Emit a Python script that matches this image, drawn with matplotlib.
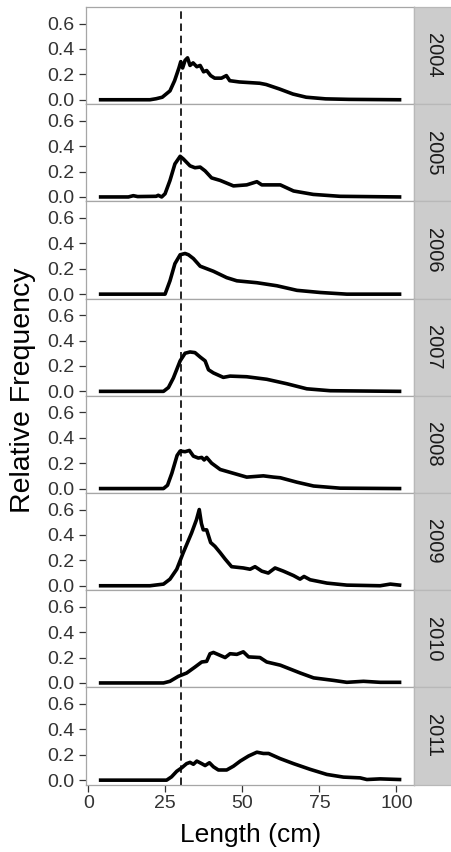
import numpy as np
import matplotlib
matplotlib.use("Agg")
import matplotlib.pyplot as plt

plt.rcParams['font.family'] = ['Liberation Sans', 'DejaVu Sans']

# length (cm) / relative frequency for each year
years = ["2004", "2005", "2006", "2007", "2008", "2009", "2010", "2011"]

len_2004 = [4, 20, 22, 24, 26.5, 28, 29.4, 30, 30.6, 31.4, 32.2, 33, 34, 35.2, 36.3, 37.4, 38.4,
            39.7, 41, 43.2, 44.8, 45.9, 49, 55.6, 57.7, 62, 66.4, 70.7, 77, 84.6, 101]
freq_2004 = [0, 0, 0.008, 0.02, 0.07, 0.15, 0.25, 0.30, 0.25, 0.31, 0.33, 0.27, 0.29, 0.26, 0.27,
             0.22, 0.23, 0.19, 0.17, 0.17, 0.19, 0.15, 0.14, 0.13, 0.12, 0.085, 0.045, 0.02,
             0.007, 0.003, 0]

len_2005 = [4, 13, 14.6, 16, 22, 22.7, 23.8, 24.9, 26.5, 28.1, 29.8, 30.8, 33, 34.6, 36.3, 37.9,
            40, 42.8, 47.1, 51.4, 54.7, 56.3, 62.3, 66.6, 73, 81.7, 101]
freq_2005 = [0, 0, 0.01, 0.003, 0.005, 0.013, 0, 0.025, 0.13, 0.26, 0.32, 0.30, 0.245, 0.23,
             0.235, 0.205, 0.15, 0.13, 0.087, 0.095, 0.12, 0.095, 0.095, 0.047, 0.02, 0.005, 0]

len_2006 = [4, 24.9, 26.5, 28.1, 29.8, 31.4, 32.5, 34.1, 36.3, 40.6, 44.9, 48.2, 54.7, 61.2,
            67.7, 75.3, 83.9, 101]
freq_2006 = [0, 0, 0.105, 0.24, 0.31, 0.32, 0.31, 0.28, 0.22, 0.18, 0.13, 0.105, 0.09, 0.066,
             0.03, 0.013, 0, 0]

len_2007 = [4, 24.4, 26, 27.6, 29.8, 31.4, 33, 34.6, 36.3, 37.9, 39, 40.6, 43.8, 46, 51.4, 57.9,
            64.4, 70.9, 78.5, 101]
freq_2007 = [0, 0, 0.03, 0.105, 0.24, 0.30, 0.31, 0.305, 0.27, 0.24, 0.17, 0.145, 0.11, 0.12,
             0.115, 0.095, 0.06, 0.02, 0.005, 0]

len_2008 = [4, 24.4, 25.7, 27.1, 28.8, 29.8, 31.4, 32.8, 34.1, 35.7, 36.8, 37.6, 38.4, 40, 42.8,
            47.1, 51.4, 56.8, 60.1, 62.3, 67.7, 73.1, 81.7, 101]
freq_2008 = [0, 0, 0.026, 0.12, 0.26, 0.295, 0.29, 0.30, 0.255, 0.24, 0.245, 0.225, 0.245, 0.2,
             0.15, 0.12, 0.09, 0.1, 0.09, 0.085, 0.05, 0.02, 0.003, 0]

len_2009 = [4, 20, 24.4, 26.5, 28.7, 30.8, 33.5, 35.1, 36, 36.7, 37.3, 38.4, 39.7, 41.1, 42.8,
            44.4, 46.5, 50.3, 52.5, 54.1, 56.3, 58.4, 60.6, 63.3, 66.6, 68.7, 70, 72, 77.4, 83.9,
            94.7, 98, 101]
freq_2009 = [0, 0, 0.013, 0.052, 0.13, 0.26, 0.415, 0.52, 0.6, 0.49, 0.44, 0.44, 0.34, 0.31,
             0.26, 0.21, 0.15, 0.14, 0.13, 0.15, 0.115, 0.1, 0.14, 0.115, 0.08, 0.052, 0.073,
             0.047, 0.021, 0.005, 0, 0.013, 0.005]

len_2010 = [4, 24.4, 26.5, 29.2, 31.9, 34.6, 36.8, 38.4, 39.5, 40.6, 44.4, 46, 48.2, 50.3, 52,
            55.7, 57.9, 62.3, 68.8, 73.1, 79.6, 83.9, 89.3, 94.7, 101]
freq_2010 = [0, 0, 0.013, 0.052, 0.078, 0.125, 0.165, 0.17, 0.23, 0.24, 0.2, 0.23, 0.225, 0.245,
             0.205, 0.2, 0.165, 0.14, 0.078, 0.04, 0.02, 0.005, 0.013, 0.005, 0.005]

len_2011 = [4, 25.4, 27, 28.7, 30.3, 31.9, 33, 34.1, 35.2, 36.8, 37.9, 39.3, 40.6, 42.2, 44.9,
            47.1, 49.3, 52, 54.7, 56.8, 58.5, 62.2, 66.6, 72, 77.4, 82.8, 88.2, 90.4, 94.7, 101]
freq_2011 = [0, 0, 0.026, 0.07, 0.097, 0.13, 0.14, 0.125, 0.15, 0.13, 0.115, 0.137, 0.105, 0.08,
             0.08, 0.11, 0.15, 0.19, 0.22, 0.21, 0.21, 0.17, 0.13, 0.085, 0.045, 0.024, 0.018,
             0.005, 0.01, 0.005]

lengths = [len_2004, len_2005, len_2006, len_2007, len_2008, len_2009, len_2010, len_2011]
freqs = [freq_2004, freq_2005, freq_2006, freq_2007, freq_2008, freq_2009, freq_2010, freq_2011]

ref_length = 30
x_ticks = [0, 25, 50, 75, 100]
y_ticks = [0.0, 0.2, 0.4, 0.6]

W, H = 452, 852
fig = plt.figure(figsize=(W / 100, H / 100), dpi=100)

left, right = 85.7, 414.5
top0, ph = 7, 97.2
border = '#A6A6A6'

for i, yr in enumerate(years):
    top = top0 + i * ph
    ax = fig.add_axes([left / W, 1 - (top + ph) / H, (right - left) / W, ph / H])
    ax.plot(lengths[i], freqs[i], color='black', lw=2.6, solid_joinstyle='round')
    ax.axvline(ref_length, color='black', lw=1.2, ls=(0, (4.5, 2.8)))
    ax.set_xlim(-0.85, 105.85)
    ax.set_ylim(-0.035, 0.73)
    ax.set_yticks(y_ticks)
    ax.set_yticklabels([f"{v:.1f}" for v in y_ticks])
    ax.set_xticks(x_ticks)
    ax.tick_params(axis='both', length=4.8, width=0.9, color='#333333',
                   labelsize=14, labelcolor='#333333', pad=3)
    if i < len(years) - 1:
        ax.tick_params(axis='x', bottom=False, labelbottom=False)
    for s in ax.spines.values():
        s.set_color(border)
        s.set_linewidth(0.9)

    # facet strip on the right
    sx = fig.add_axes([right / W, 1 - (top + ph) / H, (W - right) / W, ph / H])
    sx.set_facecolor('#CCCCCC')
    sx.set_xticks([])
    sx.set_yticks([])
    for s in sx.spines.values():
        s.set_color('#B8B8B8')
        s.set_linewidth(0.9)
    sx.text(0.5, 0.5, yr, rotation=270, ha='center', va='center',
            fontsize=14.5, color='#1A1A1A', transform=sx.transAxes)

fig.text(23 / W, 1 - 390 / H, "Relative Frequency", rotation=90,
         ha='center', va='center', fontsize=20.5)
fig.text((left + right) / 2 / W, 1 - 835 / H, "Length (cm)",
         ha='center', va='center', fontsize=19)

fig.savefig("out.png", dpi=100)
